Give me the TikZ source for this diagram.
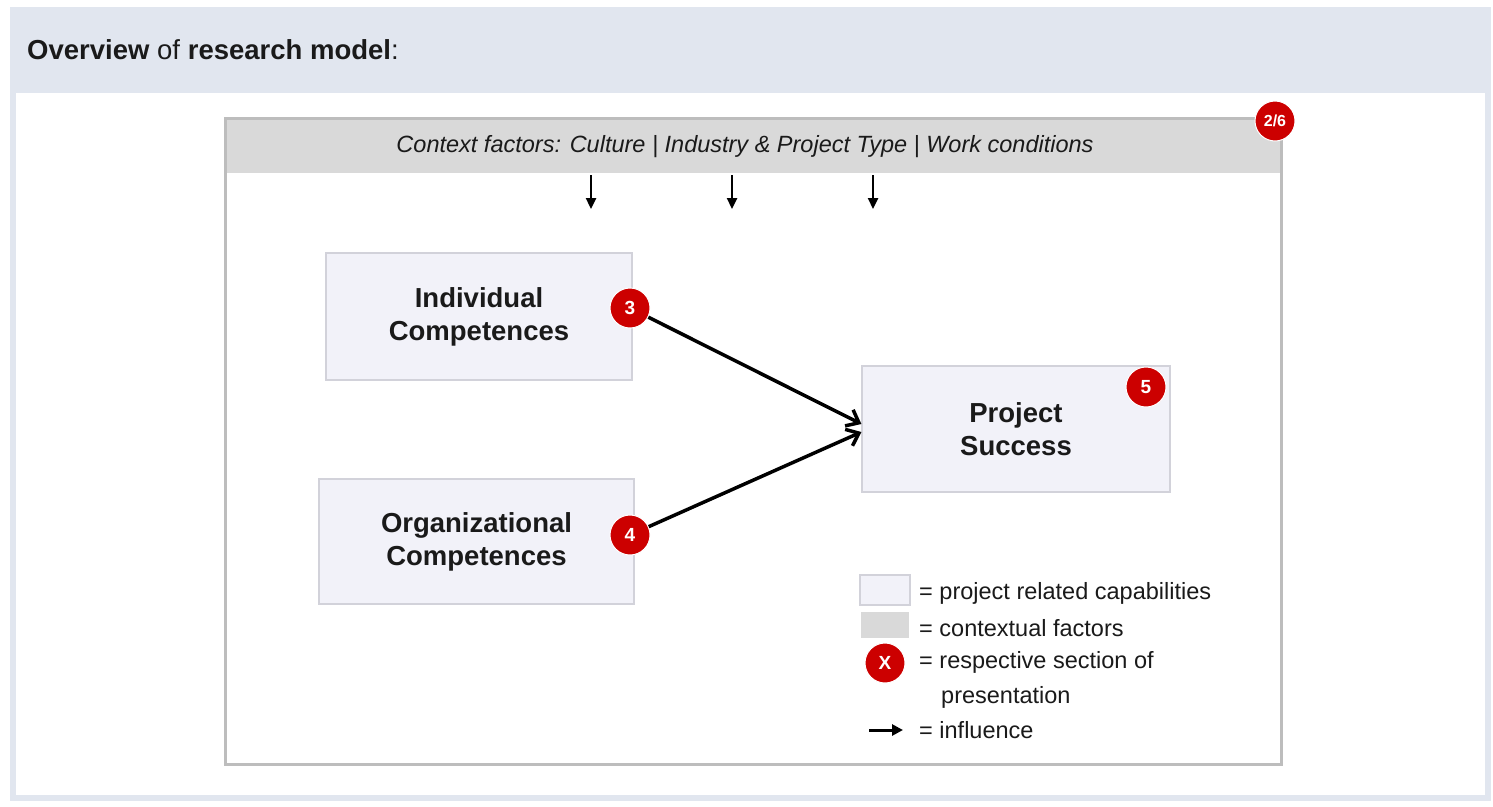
\documentclass[tikz,border=0pt]{standalone}
\usepackage{fontspec}
\setmainfont{Liberation Sans}
\usetikzlibrary{arrows.meta}
\definecolor{bandbg}{HTML}{E1E6EF}
\definecolor{framegray}{HTML}{BDBDBD}
\definecolor{ctxgray}{HTML}{D9D9D9}
\definecolor{capfill}{HTML}{F2F2F9}
\definecolor{capline}{HTML}{D2D2DA}
\definecolor{badgered}{HTML}{CC0000}
\definecolor{txt}{HTML}{1A1A1A}
\tikzset{
  capbox/.style={rectangle, fill=capfill, draw=capline, line width=1.2pt, inner sep=0pt,
    align=center, text=txt, font=\fontsize{27.5}{33}\selectfont\bfseries},
  badge/.style={circle, fill=badgered, draw=white, line width=1pt, minimum size=40pt, inner sep=0pt,
    text=white, font=\fontsize{19}{19}\selectfont\bfseries},
  legtext/.style={anchor=west, inner sep=0pt, text=txt, font=\fontsize{23.5}{23.5}\selectfont},
  infl/.style={-{Straight Barb[length=11pt,width=18pt,line width=3.5pt]}, line width=3.5pt, black},
  ctxarrow/.style={-{Triangle[length=11pt,width=10pt]}, line width=2.4pt, black},
}
\begin{document}
\begin{tikzpicture}[x=1pt,y=-1pt]
\useasboundingbox (0,0) rectangle (1493,806);
% outer band and white panel
\fill[bandbg] (10,7) rectangle (1491,801);
\fill[white] (16,93) rectangle (1485,795);
\node[anchor=west, inner sep=0pt, text=txt, font=\fontsize{27.5}{27.5}\selectfont] (title) at (27,50)
  {\textbf{Overview} of \textbf{research model}:};
% main frame
\fill[ctxgray] (226,119) rectangle (1280,173);
\draw[framegray, line width=3pt] (225,118) rectangle (1281,764);
\node[inner sep=0pt, minimum width=1054pt, minimum height=54pt] (hdr) at (753,146) {};
\node[inner sep=0pt, text=txt, font=\fontsize{23.5}{23.5}\selectfont\itshape] (hdrtext) at (745,147)
  {Context factors: Culture | Industry \& Project Type | Work conditions};
\node[badge, font=\fontsize{16}{16}\selectfont\bfseries] (b26) at (1275,121) {2/6};
% context arrows
\coordinate (d1) at (591,209);
\coordinate (d2) at (732,209);
\coordinate (d3) at (873,209);
\draw[ctxarrow] (hdr.south -| d1) ++(0,2) -- (d1);
\draw[ctxarrow] (hdr.south -| d2) ++(0,2) -- (d2);
\draw[ctxarrow] (hdr.south -| d3) ++(0,2) -- (d3);
% boxes
\node[capbox, minimum width=306pt, minimum height=127pt] (ind) at (479,316.5) {Individual\\Competences};
\node[capbox, minimum width=315pt, minimum height=125pt] (org) at (476.5,541.5) {Organizational\\Competences};
\node[capbox, minimum width=308pt, minimum height=126pt] (ps) at (1016,429) {Project\\Success};
\node[badge] (b3) at (630,308) {3};
\node[badge] (b4) at (630,535) {4};
\node[badge] (b5) at (1146,387) {5};
% influences
\draw[infl] (b3) -- ([yshift=5pt]ps.west);
\draw[infl] (b4) -- ([yshift=-3pt]ps.west);
% legend
\node[rectangle, fill=capfill, draw=capline, line width=1.2pt, minimum width=50pt, minimum height=30pt, inner sep=0pt] (lcap) at (885,590) {};
\node[rectangle, fill=ctxgray, minimum width=48pt, minimum height=26pt, inner sep=0pt] (lctx) at (885,625) {};
\node[badge] (lx) at (885,663) {X};
\coordinate (la1) at (869,730);
\coordinate (la2) at (903,730);
\draw[-{Triangle[length=11pt,width=11pt]}, line width=3pt, black] (la1) -- (la2);
\node[legtext] (t1) at (919,593) {= project related capabilities};
\node[legtext] (t2) at (919,628) {= contextual factors};
\node[legtext] (t3) at (919,662) {= respective section of};
\node[legtext] (t4) at (941,697) {presentation};
\node[legtext] (t5) at (919,730) {= influence};
\end{tikzpicture}
\end{document}
